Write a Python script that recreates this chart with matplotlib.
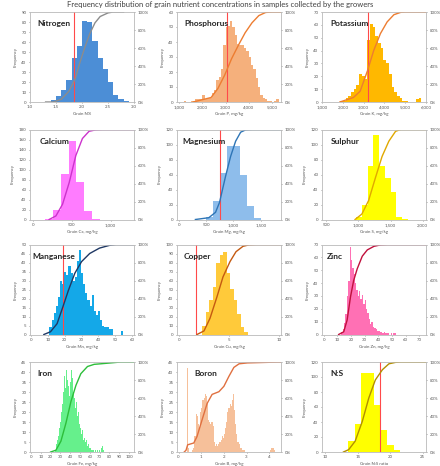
import numpy as np
import matplotlib
matplotlib.use('Agg')
import matplotlib.pyplot as plt
from matplotlib.ticker import FuncFormatter, PercentFormatter

plt.rcParams['font.family'] = ['Lato', 'DejaVu Sans']

title_text = 'Frequency distribution of grain nutrient concentrations in samples collected by the growers'

# --- data (bin start, bin width, counts, cumulative curve) ---
n_start, n_width = 1.4, 0.1
n_counts = [2, 6, 12, 22, 44, 56, 81, 80, 61, 44, 33, 20, 7, 3, 1]
n_cum_x = [1.3, 1.45, 1.6, 1.75, 1.87, 1.95, 2.05, 2.15, 2.25, 2.35, 2.5, 2.6, 2.8]
n_cum_pct = [0, 0, 3, 12, 26, 42, 60, 76, 88, 95, 99, 100, 100]
n_critical = 1.85

p_start, p_width = 1200, 100
p_counts = [1, 0, 0, 1, 1, 2, 2, 2, 5, 2, 3, 3, 6, 8, 15, 17, 22, 38, 50, 51, 54,
            50, 45, 39, 38, 38, 36, 34, 30, 25, 22, 16, 10, 5, 3, 2, 1, 1, 0, 1, 2]
p_cum_x = [1600, 2375, 2670, 2965, 3260, 3555, 3850, 4145, 4440, 4735, 5030, 5400]
p_cum_pct = [0, 5, 15, 30, 48, 63, 77, 88, 96, 99.5, 100, 100]
p_critical = 3050

k_start, k_width = 1876, 130
k_counts = [1, 1, 3, 5, 8, 10, 13, 22, 20, 18, 48, 61, 58, 51, 46, 42, 33, 30, 22,
            12, 8, 5, 3, 1, 1, 0, 0, 0, 2, 3]
k_cum_x = [1860, 2510, 2834, 3191, 3483, 3808, 4132, 4457, 4782, 5025, 6000]
k_cum_pct = [0, 5, 12, 35, 57, 76, 89, 97, 99.6, 100, 100]
k_critical = 3190

ca_start, ca_width = 160, 100
ca_counts = [2, 20, 92, 157, 75, 17, 1]
ca_cum_x = [210, 298, 383, 468, 553, 638, 723, 809, 894, 1300]
ca_cum_pct = [0, 4, 17, 41, 71, 90, 98, 99.6, 100, 100]

mg_start, mg_width = 500, 125
mg_counts = [3, 25, 62, 98, 98, 60, 18, 2]
mg_cum_x = [306, 551, 674, 747, 857, 949, 1041, 1133, 1225, 1347, 1860]
mg_cum_pct = [0, 2, 8, 19, 48, 70, 87, 97, 99.6, 100, 100]
mg_critical = 750

s_start, s_width = 963, 90
s_counts = [3, 20, 72, 113, 72, 55, 37, 4, 1]
s_cum_x = [947, 1053, 1158, 1263, 1368, 1474, 1579, 1658, 2050]
s_cum_pct = [0, 6, 21, 46, 70, 87, 98, 100, 100]

mn_start, mn_width = 11.0, 1.25
mn_counts = [4, 8, 12, 16, 21, 30, 28, 35, 33, 38, 34, 30, 32, 41, 47, 34, 28, 23,
             19, 16, 22, 13, 11, 13, 8, 5, 4, 4, 3, 3, 0, 0, 0, 0, 2]
mn_cum_x = [7.7, 11.6, 15.5, 19, 22.2, 26, 30, 34.8, 40.6, 46.4, 50.3, 60.5]
mn_cum_pct = [0, 3, 12, 31, 49, 68, 81, 90, 96, 99, 100, 100]
mn_critical = 19

cu_start, cu_width = 2.3, 0.35
cu_counts = [10, 25, 38, 53, 79, 88, 92, 68, 51, 38, 23, 8, 3]
cu_cum_x = [1.8, 2.5, 3.1, 3.8, 4.4, 5.1, 5.7, 6.4, 7.0, 7.7, 10.2]
cu_cum_pct = [0, 4, 18, 42, 64, 81, 92, 98, 99.6, 100, 100]
cu_critical = 1.7

zn_start, zn_width = 13, 1
zn_counts = [2, 4, 9, 16, 30, 42, 68, 58, 52, 47, 40, 35, 30, 34, 28, 31, 24, 27, 20,
             17, 12, 8, 10, 6, 5, 4, 3, 3, 2, 2, 1, 2, 1, 1, 1, 0, 1, 0, 1, 1]
zn_cum_x = [11, 14.7, 17.2, 19.7, 22, 24.6, 28.3, 32, 36.9, 41.8, 46.7, 75]
zn_cum_pct = [0, 3, 16, 42, 60, 73, 87, 94, 98, 99.6, 100, 100]

fe_start, fe_width = 24, 1
fe_counts = [1, 2, 4, 6, 8, 12, 15, 20, 24, 30, 38, 32, 41, 36, 33, 28, 35, 41, 37, 30,
             27, 22, 25, 18, 20, 14, 12, 9, 11, 6, 7, 5, 6, 3, 4, 2, 2, 1, 1, 1,
             0, 1, 0, 1, 0, 1, 0, 2, 3, 1]
fe_cum_x = [20, 25.4, 30.5, 35.6, 40.7, 45.8, 50.8, 57.6, 64.4, 71, 81.4, 91.5, 105]
fe_cum_pct = [0, 2, 12, 32, 56, 74, 87, 95, 97.4, 98, 99, 100, 100]

b_start, b_width = 0.30, 0.05
b_counts = [0, 42, 2, 0, 0, 0, 1, 2, 8, 19, 18, 14, 12, 20, 22, 26, 27, 29, 28, 25,
            16, 15, 14, 15, 13, 5, 3, 4, 3, 4, 5, 6, 8, 7, 9, 12, 15, 20, 22, 24,
            23, 26, 29, 21, 14, 9, 5, 4, 2, 2, 1, 1, 1,
            0, 0, 0, 0, 0, 0, 0, 0, 0, 0, 0, 0, 0, 0, 0, 0, 0, 0, 0, 0, 0, 0,
            1, 2, 2, 1]
b_cum_x = [0.25, 0.33, 0.40, 0.67, 0.81, 1.04, 1.26, 1.48, 1.78, 2.0, 2.22, 2.44,
           2.67, 3.04, 3.9, 4.37, 4.52]
b_cum_pct = [0, 2, 8, 10, 17, 36, 54, 64, 67, 73, 84, 94, 98, 99, 99.6, 100, 100]

ns_start, ns_width = 13.5, 1
ns_counts = [15, 37, 106, 105, 63, 30, 10, 3]
ns_cum_x = [12.8, 13.6, 14.6, 15.7, 16.7, 17.7, 18.8, 19.8, 20.8, 21.6, 25.5]
ns_cum_pct = [0, 2.6, 12, 34, 60, 80, 91.5, 98, 99.6, 100, 100]
ns_critical = 18.4

comma = FuncFormatter(lambda v, pos: '{:,.0f}'.format(v))
one_dec = FuncFormatter(lambda v, pos: '{:.1f}'.format(v))
plain = FuncFormatter(lambda v, pos: '{:g}'.format(v))

panels = [
    dict(name='Nitrogen', xlabel='Grain N%', start=n_start, width=n_width, counts=n_counts,
         cx=n_cum_x, cy=n_cum_pct, crit=n_critical, bar='#4C8ED6', line='#8C8C8C',
         xlim=(1.0, 3.0), xticks=np.arange(1.0, 3.01, 0.5), ymax=90, ystep=10, fmt=one_dec, tx=0.07),
    dict(name='Phosphorus', xlabel='Grain P, mg/kg', start=p_start, width=p_width, counts=p_counts,
         cx=p_cum_x, cy=p_cum_pct, crit=p_critical, bar='#F5B07C', line='#ED7D31',
         xlim=(900, 5400), xticks=range(1000, 5001, 1000), ymax=60, ystep=10, fmt=comma, tx=0.07),
    dict(name='Potassium', xlabel='Grain K, mg/kg', start=k_start, width=k_width, counts=k_counts,
         cx=k_cum_x, cy=k_cum_pct, crit=k_critical, bar='#FFB800', line='#ED7D31',
         xlim=(1000, 6000), xticks=range(1000, 6001, 1000), ymax=70, ystep=10, fmt=comma, tx=0.08),
    dict(name='Calcium', xlabel='Grain Ca, mg/kg', start=ca_start, width=ca_width, counts=ca_counts,
         cx=ca_cum_x, cy=ca_cum_pct, crit=None, bar='#FF7CFF', line='#CC33CC',
         xlim=(-35, 1300), xticks=[0, 500, 1000], ymax=180, ystep=20, fmt=comma, tx=0.09),
    dict(name='Magnesium', xlabel='Grain Mg, mg/kg', start=mg_start, width=mg_width, counts=mg_counts,
         cx=mg_cum_x, cy=mg_cum_pct, crit=mg_critical, bar='#8EBDEB', line='#2E75B6',
         xlim=(-30, 1870), xticks=[0, 500, 1000, 1500], ymax=120, ystep=20, fmt=comma, tx=0.05),
    dict(name='Sulphur', xlabel='Grain S, mg/kg', start=s_start, width=s_width, counts=s_counts,
         cx=s_cum_x, cy=s_cum_pct, crit=None, bar='#FFFF00', line='#E0A800',
         xlim=(432, 2053), xticks=[500, 1000, 1500, 2000], ymax=120, ystep=20, fmt=comma, tx=0.08),
    dict(name='Manganese', xlabel='Grain Mn, mg/kg', start=mn_start, width=mn_width, counts=mn_counts,
         cx=mn_cum_x, cy=mn_cum_pct, crit=mn_critical, bar='#14A8E8', line='#1F3864',
         xlim=(-0.5, 61), xticks=range(0, 61, 10), ymax=50, ystep=5, fmt=plain, tx=0.02),
    dict(name='Copper', xlabel='Grain Cu, mg/kg', start=cu_start, width=cu_width, counts=cu_counts,
         cx=cu_cum_x, cy=cu_cum_pct, crit=cu_critical, bar='#FFCA3A', line='#C55A11',
         xlim=(-0.2, 10.2), xticks=[0, 5, 10], ymax=100, ystep=10, fmt=plain, tx=0.06),
    dict(name='Zinc', xlabel='Grain Zn, mg/kg', start=zn_start, width=zn_width, counts=zn_counts,
         cx=zn_cum_x, cy=zn_cum_pct, crit=None, bar='#FF70B4', line='#C0103C',
         xlim=(-1.2, 75), xticks=range(0, 71, 10), ymax=70, ystep=10, fmt=plain, tx=0.05),
    dict(name='Iron', xlabel='Grain Fe, mg/kg', start=fe_start, width=fe_width, counts=fe_counts,
         cx=fe_cum_x, cy=fe_cum_pct, crit=None, bar='#66F08C', line='#2DBE3A',
         xlim=(-1, 105), xticks=range(0, 101, 10), ymax=45, ystep=5, fmt=plain, tx=0.07),
    dict(name='Boron', xlabel='Grain B, mg/kg', start=b_start, width=b_width, counts=b_counts,
         cx=b_cum_x, cy=b_cum_pct, crit=None, bar='#F6C09A', line='#E07040',
         xlim=(-0.07, 4.52), xticks=range(0, 5), ymax=45, ystep=5, fmt=plain, tx=0.17),
    dict(name='N:S', xlabel='Grain N:S ratio', start=ns_start, width=ns_width, counts=ns_counts,
         cx=ns_cum_x, cy=ns_cum_pct, crit=ns_critical, bar='#FFFF00', line='#B38F00',
         xlim=(9.5, 25.5), xticks=[10, 15, 20, 25], ymax=120, ystep=20, fmt=plain, tx=0.08),
]

W, H = 440, 466
fig = plt.figure(figsize=(W / 100, H / 100), dpi=100)
fig.patch.set_facecolor('white')

col_left = [30, 177, 322]
row_top = [12, 129.5, 244.5, 362]
ax_w, ax_h = 104, 90
small = 3.2
grey = '#595959'

fig.text(0.5, 1 - 4.5 / H, title_text, ha='center', va='center', fontsize=5.5, color='#404040')

for i, p in enumerate(panels):
    r, c = divmod(i, 3)
    ax = fig.add_axes([col_left[c] / W, 1 - (row_top[r] + ax_h) / H, ax_w / W, ax_h / H])
    edges = p['start'] + p['width'] * np.arange(len(p['counts']))
    ax.bar(edges, p['counts'], width=p['width'], align='edge', color=p['bar'], linewidth=0)
    if p['crit'] is not None:
        ax.axvline(p['crit'], color='#FF4A4A', lw=0.8, zorder=3)
    ax.set_xlim(p['xlim'])
    ax.set_xticks(list(p['xticks']))
    ax.xaxis.set_major_formatter(p['fmt'])
    ax.set_ylim(0, p['ymax'])
    ax.set_yticks(np.arange(0, p['ymax'] + 0.1, p['ystep']))
    ax.set_xlabel(p['xlabel'], fontsize=small, color=grey, labelpad=2)
    ax.set_ylabel('Frequency', fontsize=small, color=grey, labelpad=3)
    ax.tick_params(labelsize=small, colors=grey, length=1, width=0.4, pad=1.5)
    ax.text(p['tx'], 0.87, p['name'], transform=ax.transAxes, fontsize=6,
            fontweight='bold', color='#262626', va='center', zorder=5)

    ax2 = ax.twinx()
    ax2.plot(p['cx'], p['cy'], color=p['line'], lw=1.0)
    ax2.set_ylim(0, 100)
    ax2.set_yticks(range(0, 101, 20))
    ax2.yaxis.set_major_formatter(PercentFormatter(100, decimals=0))
    ax2.tick_params(labelsize=small, colors=grey, length=1, width=0.4, pad=1.5)
    for a in (ax, ax2):
        for s in a.spines.values():
            s.set_color('#BFBFBF')
            s.set_linewidth(0.5)

fig.savefig('out.png', dpi=100)
